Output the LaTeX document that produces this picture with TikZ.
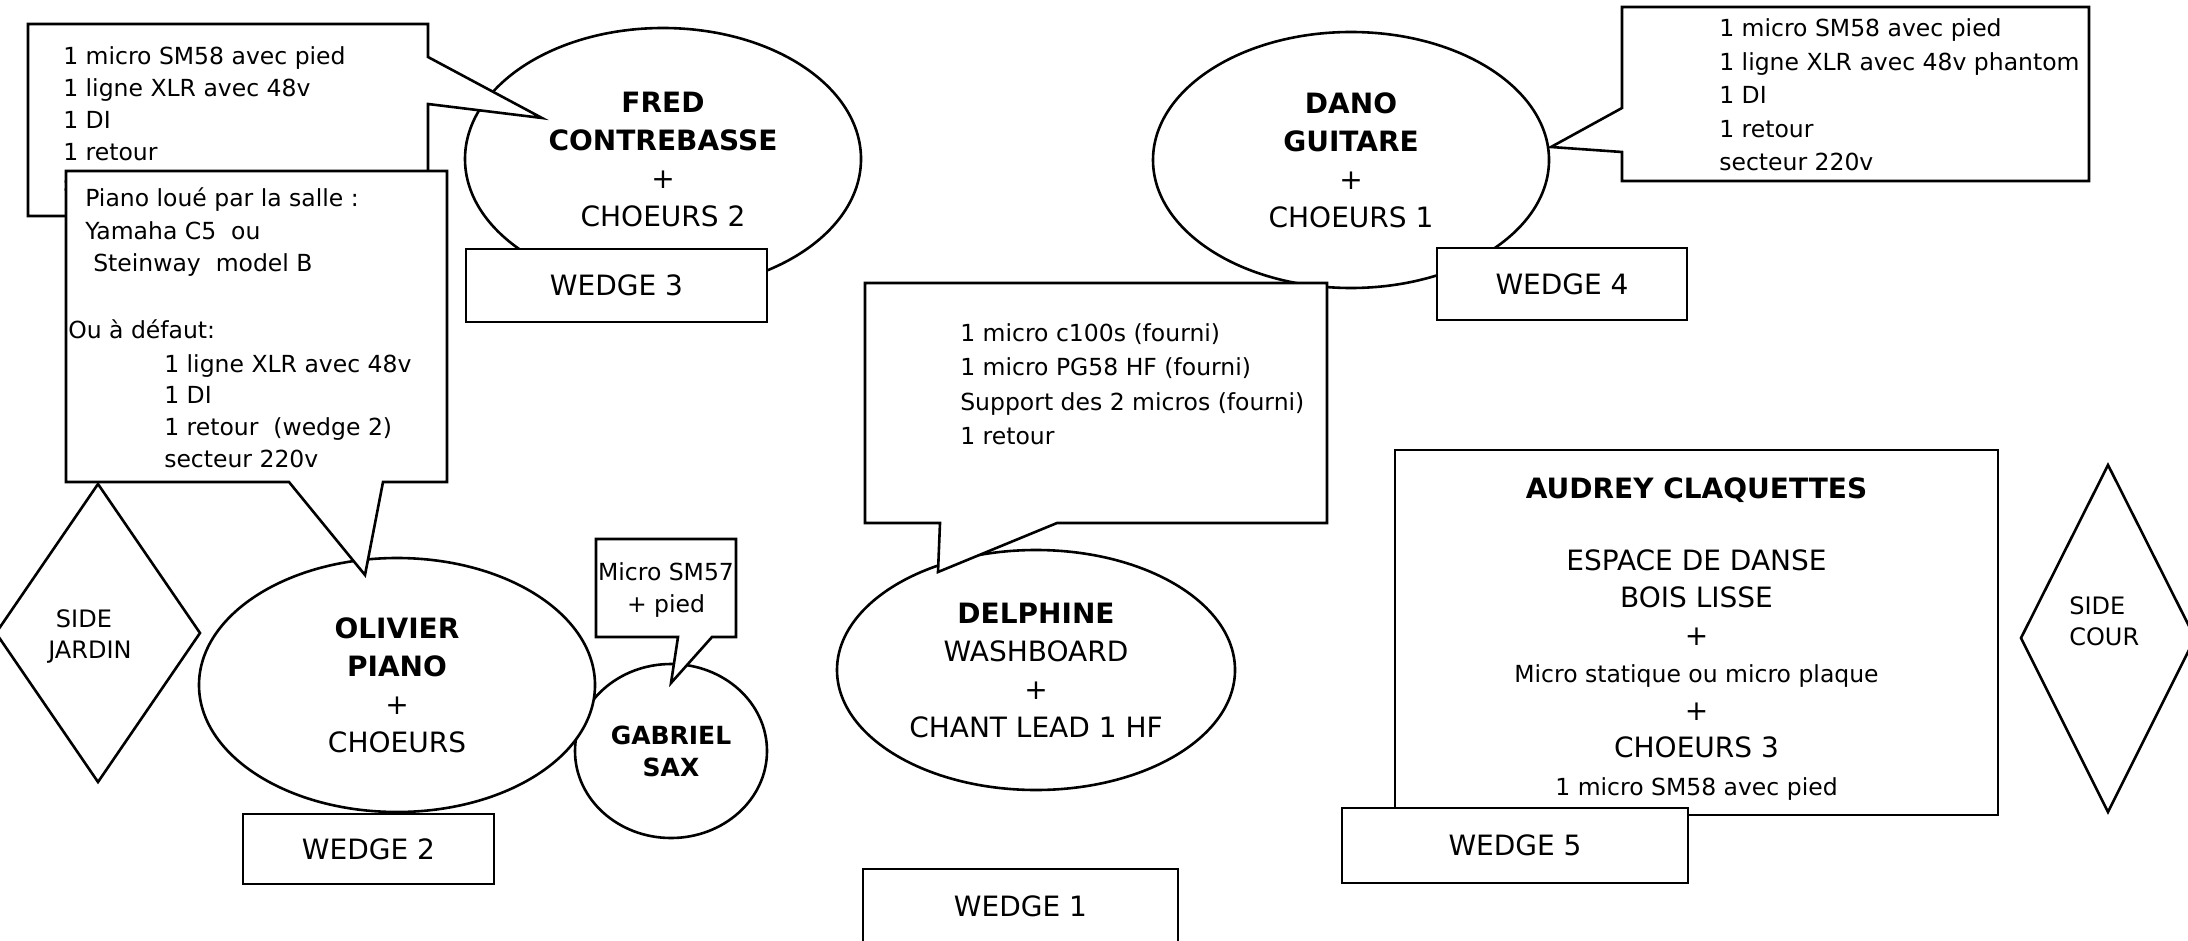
\documentclass[tikz,border=0pt]{standalone}
\usepackage{fontspec}
\setmainfont{DejaVu Sans}
\usetikzlibrary{shapes.geometric}

\begin{document}
\begin{tikzpicture}[x=0.5pt,y=-0.5pt,line width=1.3pt,
    grand/.style={font=\fontsize{14}{19}\selectfont},
    petit/.style={font=\fontsize{11.75}{16}\selectfont},
    musicien/.style={draw,ellipse,fill=white,inner sep=0pt,align=center,grand},
    wedge/.style={draw,fill=white,inner sep=0pt,grand},
    bulle/.style={draw,fill=white},
    ligne/.style={petit,inner sep=0pt,anchor=base west},
    cote/.style={font=\fontsize{12}{15.5}\selectfont,align=left,inner sep=0pt,anchor=west}]
\useasboundingbox (0,0) rectangle (2188,941);

% fred
\node[musicien,minimum width=198pt,minimum height=131pt] (fred) at (663,159)
  {\textbf{FRED}\\\textbf{CONTREBASSE}\\+\\CHOEURS 2};
\draw[bulle] (28,24) -- (428,24) -- (428,57) -- (542,118) -- (428,104) -- (428,216) -- (28,216) -- cycle;
\foreach \t [count=\i] in {1 micro SM58 avec pied,1 ligne XLR avec 48v,1 DI,1 retour,secteur 220v}
  \node[ligne] (fred-\i) at (62,{65+31.7*(\i-1)}) {\t};
\node[wedge,minimum width=150.5pt,minimum height=36.5pt] (wedge3) at (616.5,285.5) {WEDGE 3};

% olivier + gabriel
\node[musicien,minimum width=96pt,minimum height=87pt,font=\bfseries\fontsize{12.5}{16}\selectfont] (gabriel) at (671,751) {GABRIEL\\SAX};
\node[musicien,minimum width=198pt,minimum height=127pt] (olivier) at (397,685)
  {\textbf{OLIVIER}\\\textbf{PIANO}\\+\\CHOEURS};
\draw[bulle] (66,171) -- (447,171) -- (447,482) -- (383,482) -- (365,575) -- (289,482) -- (66,482) -- cycle;
\node[ligne] (piano-1) at (84,206) {Piano loué par la salle :};
\node[ligne] (piano-2) at (84,240) {Yamaha C5\ \ ou};
\node[ligne] (piano-3) at (92,271) {Steinway\ \ model B};
\node[ligne] (piano-4) at (67,338) {Ou à défaut:};
\foreach \t [count=\i] in {1 ligne XLR avec 48v,1 DI,1 retour\ \ (wedge 2),secteur 220v}
  \node[ligne] (defaut-\i) at (163,{372+31.7*(\i-1)}) {\t};
\draw[bulle] (596,539) -- (736,539) -- (736,637) -- (712,637) -- (671,683) -- (678,637) -- (596,637) -- cycle;
\node[petit,align=center,inner sep=0pt] (sm57) at (666,590) {Micro SM57\\+ pied};
\node[wedge,minimum width=125.5pt,minimum height=35pt] (wedge2) at (368.5,849) {WEDGE 2};

% cote jardin
\draw[bulle] (98,484) -- (200,633) -- (98,782) -- (-4,633) -- cycle;
\node[cote] (jardin) at (47,636) {\hspace*{0.32em}SIDE\\JARDIN};

% dano
\node[musicien,minimum width=198pt,minimum height=128pt] (dano) at (1351,160)
  {\textbf{DANO}\\\textbf{GUITARE}\\+\\CHOEURS 1};
\node[wedge,minimum width=125pt,minimum height=36pt] (wedge4) at (1562,284) {WEDGE 4};
\draw[bulle] (1622,7) -- (2089,7) -- (2089,181) -- (1622,181) -- (1622,152) -- (1551,147) -- (1622,108) -- cycle;
\foreach \t [count=\i] in {1 micro SM58 avec pied,1 ligne XLR avec 48v phantom,1 DI,1 retour,secteur 220v}
  \node[ligne] (dano-\i) at (1718,{37+33.5*(\i-1)}) {\t};

% delphine
\node[musicien,minimum width=199pt,minimum height=120pt] (delphine) at (1036,670)
  {\textbf{DELPHINE}\\WASHBOARD\\+\\CHANT LEAD 1 HF};
\draw[bulle] (865,283) -- (1327,283) -- (1327,523) -- (1057,523) -- (938,572) -- (940,523) -- (865,523) -- cycle;
\foreach \t [count=\i] in {1 micro c100s (fourni),1 micro PG58 HF (fourni),Support des 2 micros (fourni),1 retour}
  \node[ligne] (delphine-\i) at (959,{341+34.5*(\i-1)}) {\t};
\node[wedge,minimum width=157.5pt,minimum height=37pt] (wedge1) at (1020.5,906) {WEDGE 1};

% audrey
\node[wedge,minimum width=301.5pt,minimum height=182.5pt] (audrey) at (1696.5,632.5) {};
\node[align=center,inner sep=0pt,font=\fontsize{14}{18.75}\selectfont] (audrey-texte) at (1696.5,639)
  {\textbf{AUDREY CLAQUETTES}\\[17pt]ESPACE DE DANSE\\BOIS LISSE\\+\\
   {\fontsize{11.75}{18.75}\selectfont Micro statique ou micro plaque}\\+\\CHOEURS 3\\
   {\fontsize{11.75}{18.75}\selectfont 1 micro SM58 avec pied}};
\node[wedge,minimum width=173pt,minimum height=37.5pt] (wedge5) at (1515,845.5) {WEDGE 5};

% cote cour
\draw[bulle] (2108,465) -- (2195,638) -- (2108,812) -- (2021,638) -- cycle;
\node[cote] (cour) at (2068,621) {SIDE\\COUR};
\end{tikzpicture}
\end{document}
